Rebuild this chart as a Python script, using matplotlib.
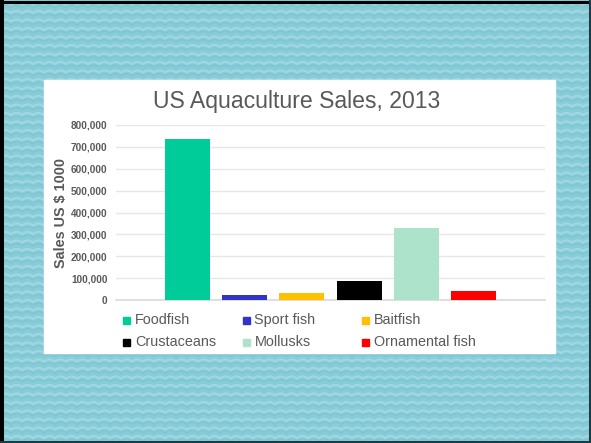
import numpy as np
import matplotlib
matplotlib.use("Agg")
import matplotlib.pyplot as plt
from matplotlib.patches import Rectangle

plt.rcParams['font.family'] = ['Liberation Sans', 'DejaVu Sans']

# Sales by aquaculture category (thousand US $)
categories = ['Foodfish', 'Sport fish', 'Baitfish', 'Crustaceans', 'Mollusks', 'Ornamental fish']
sales = [735000, 22000, 31000, 86000, 330000, 41000]
colors = ['#00cc99', '#3333cc', '#ffc000', '#000000', '#aee3cb', '#ff0000']
yticks = [0, 100000, 200000, 300000, 400000, 500000, 600000, 700000, 800000]

W, H = 591, 443
fig = plt.figure(figsize=(W / 100, H / 100), dpi=100)

# background: wavy water texture in pixel coordinates
bg = fig.add_axes([0, 0, 1, 1])
bg.set_xlim(0, W)
bg.set_ylim(H, 0)
bg.axis('off')
bg.add_patch(Rectangle((0, 0), W, H, color='#88ccd8', zorder=0))
xx = np.linspace(0, W, 1200)
for row in np.arange(-4, H + 9, 8.5):
    wave = 2.0 * np.abs(np.sin(np.pi * xx / 11.0))
    bg.plot(xx, row - wave, color='#a8dce5', lw=1.6, alpha=0.75, zorder=1)
    bg.plot(xx, row + 3.2 - wave, color='#76c0ce', lw=1.2, alpha=0.45, zorder=1)

# image frame (line widths given in points: px * 0.72)
bg.plot([2, 2], [0, H], color='black', lw=2.9, zorder=3)
bg.plot([0, W], [1.5, 1.5], color='black', lw=2.2, zorder=3)
bg.plot([W - 1, W - 1], [0, H], color='#1b3c44', lw=1.45, zorder=3)
bg.plot([0, W], [H - 1, H - 1], color='#1b3c44', lw=1.45, zorder=3)

# white chart panel
bg.add_patch(Rectangle((44, 80), 511, 273, color='white', zorder=2))

bg.text(297, 101, 'US Aquaculture Sales, 2013', fontsize=16.6, color='#595959',
        ha='center', va='center', zorder=4)

# legend, two rows of three
for i, (name, c) in enumerate(zip(categories, colors)):
    x0 = 123 + 119.5 * (i % 3)
    y0 = 320 + 22 * (i // 3)
    bg.add_patch(Rectangle((x0, y0 - 3.5), 7, 7, color=c, zorder=4))
    bg.text(x0 + 12, y0, name, fontsize=10.4, color='#595959', va='center', zorder=4)

# plot area
ax = fig.add_axes([116 / W, (H - 300) / H, 429 / W, 175 / H])
ax.set_facecolor('none')
pitch = 2 / 15
pos = [(i - 2.5) * pitch for i in range(len(categories))]
ax.bar(pos, sales, width=0.105, color=colors, zorder=3)
ax.set_xlim(-0.5, 0.5)
ax.set_ylim(0, 800000)
ax.set_yticks(yticks)
ax.set_yticklabels([f'{v:,}' for v in yticks], fontsize=7.2, fontweight='bold', color='#595959')
ax.set_xticks([])
ax.tick_params(axis='y', length=0, pad=6)
ax.grid(axis='y', color='#e6e6e6', lw=1, zorder=0)
for s in ['top', 'right', 'left']:
    ax.spines[s].set_visible(False)
ax.spines['bottom'].set_color('#d9d9d9')
ax.spines['bottom'].set_linewidth(1.2)
ax.set_ylabel('Sales US $ 1000', fontsize=10.4, fontweight='bold', color='#595959', labelpad=2)

fig.savefig('out.png', dpi=100)
